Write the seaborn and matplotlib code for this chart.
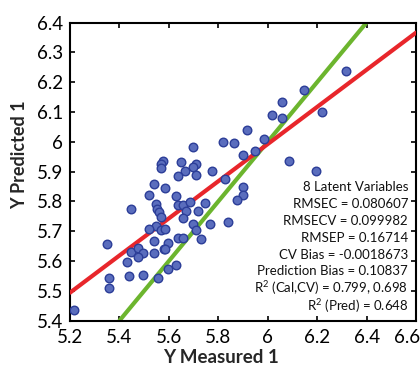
import matplotlib
matplotlib.use("Agg")
import matplotlib.pyplot as plt
import matplotlib.transforms as mtransforms
import seaborn as sns
import pandas as pd
from matplotlib.ticker import FuncFormatter

# measured vs predicted values
y_measured = [5.697, 5.818, 5.865, 5.918, 5.900, 5.577, 5.568, 5.567, 5.649, 5.710,
              5.696, 5.667, 5.638, 5.709, 5.776, 5.829, 6.318, 6.148, 6.057, 6.019,
              6.057, 6.219, 5.986, 5.948, 6.087, 6.196, 5.899, 5.899, 5.877, 5.838,
              5.538, 5.586, 5.519, 5.629, 5.447, 5.547, 5.552, 5.560, 5.567, 5.637,
              5.659, 5.668, 5.687, 5.658, 5.718, 5.748, 5.697, 5.710, 5.729, 5.768,
              5.548, 5.519, 5.568, 5.586, 5.349, 5.539, 5.597, 5.636, 5.657, 5.447,
              5.477, 5.497, 5.538, 5.579, 5.586, 5.430, 5.477, 5.596, 5.629, 5.357,
              5.438, 5.497, 5.557, 5.357, 5.217]
y_predicted = [5.984, 5.998, 5.995, 6.040, 5.957, 5.937, 5.925, 5.913, 5.933, 5.927,
               5.915, 5.903, 5.885, 5.887, 5.901, 5.876, 6.236, 6.175, 6.133, 6.089,
               6.080, 6.101, 6.008, 5.968, 5.936, 5.901, 5.847, 5.823, 5.804, 5.730,
               5.857, 5.845, 5.822, 5.819, 5.775, 5.790, 5.776, 5.765, 5.748, 5.787,
               5.788, 5.769, 5.799, 5.745, 5.767, 5.796, 5.725, 5.703, 5.674, 5.724,
               5.718, 5.707, 5.705, 5.707, 5.657, 5.666, 5.660, 5.677, 5.677, 5.630,
               5.643, 5.626, 5.627, 5.639, 5.639, 5.598, 5.613, 5.574, 5.588, 5.542,
               5.551, 5.553, 5.542, 5.510, 5.436]

# regression line (red) and 1:1 target line (green)
fit_x = [5.2, 6.6]
fit_y = [5.494, 6.366]
target_x = [5.4, 6.4]
target_y = [5.4, 6.4]

x_ticks = [5.2, 5.4, 5.6, 5.8, 6.0, 6.2, 6.4, 6.6]
y_ticks = [5.4, 5.5, 5.6, 5.7, 5.8, 5.9, 6.0, 6.1, 6.2, 6.3, 6.4]

stats_lines = [
    "8 Latent Variables",
    "RMSEC = 0.080607",
    "RMSECV = 0.099982",
    "RMSEP = 0.16714",
    "CV Bias = -0.0018673",
    "Prediction Bias = 0.10837",
    "R$^2$ (Cal,CV) = 0.799, 0.698",
    "R$^2$ (Pred) = 0.648",
]

sns.set_style("ticks")
plt.rcParams["font.family"] = ["Lato", "DejaVu Sans"]
plt.rcParams["mathtext.fontset"] = "custom"
plt.rcParams["mathtext.rm"] = "Lato"
plt.rcParams["mathtext.it"] = "Lato:italic"
plt.rcParams["mathtext.bf"] = "Lato:bold"

df = pd.DataFrame({"measured": y_measured, "predicted": y_predicted})

fig = plt.figure(figsize=(4.2, 3.72), dpi=100)
ax = fig.add_axes([70 / 420, 1 - 320.7 / 372, 346 / 420, 298.2 / 372])

sns.lineplot(x=target_x, y=target_y, ax=ax, color="#6cb52e", linewidth=3.0, zorder=2)
sns.lineplot(x=fit_x, y=fit_y, ax=ax, color="#e8262b", linewidth=3.0, zorder=3)
sns.scatterplot(data=df, x="measured", y="predicted", ax=ax, s=38,
                color="#5a6dbd", edgecolor="#2c3e98", linewidth=1.0, zorder=4)

ax.set_xlim(5.2, 6.6)
ax.set_ylim(5.4, 6.4)
ax.set_xticks(x_ticks)
ax.set_yticks(y_ticks)
fmt = FuncFormatter(lambda v, p: f"{v:g}")
ax.xaxis.set_major_formatter(fmt)
ax.yaxis.set_major_formatter(fmt)
ax.tick_params(direction="in", length=3.5, width=1.2, top=True, right=True,
               labelsize=13.5, colors="black", pad=6)
ax.tick_params(axis="y", pad=5)
for side in ax.spines.values():
    side.set_visible(True)
    side.set_linewidth(1.5)
    side.set_color("black")

# pull the last x tick label inside the figure edge
fig.canvas.draw()
last = ax.get_xticklabels()[-1]
last.set_transform(last.get_transform() +
                   mtransforms.ScaledTranslation(-0.09, 0, fig.dpi_scale_trans))

ax.set_xlabel("Y Measured 1", fontsize=13.5, fontweight="bold")
ax.set_ylabel("Y Predicted 1", fontsize=13, fontweight="bold")
ax.xaxis.set_label_coords(0.436, -0.095)
ax.yaxis.set_label_coords(-0.12, 0.556)

line_px = [187, 204, 221, 238, 255, 271, 288, 306]
for txt, py in zip(stats_lines, line_px):
    ax.text(0.977, (320.7 - py) / 298.2, txt, transform=ax.transAxes,
            ha="right", va="center", fontsize=9.5, color="#111111")

fig.savefig("out.png", dpi=100)
plt.close(fig)
